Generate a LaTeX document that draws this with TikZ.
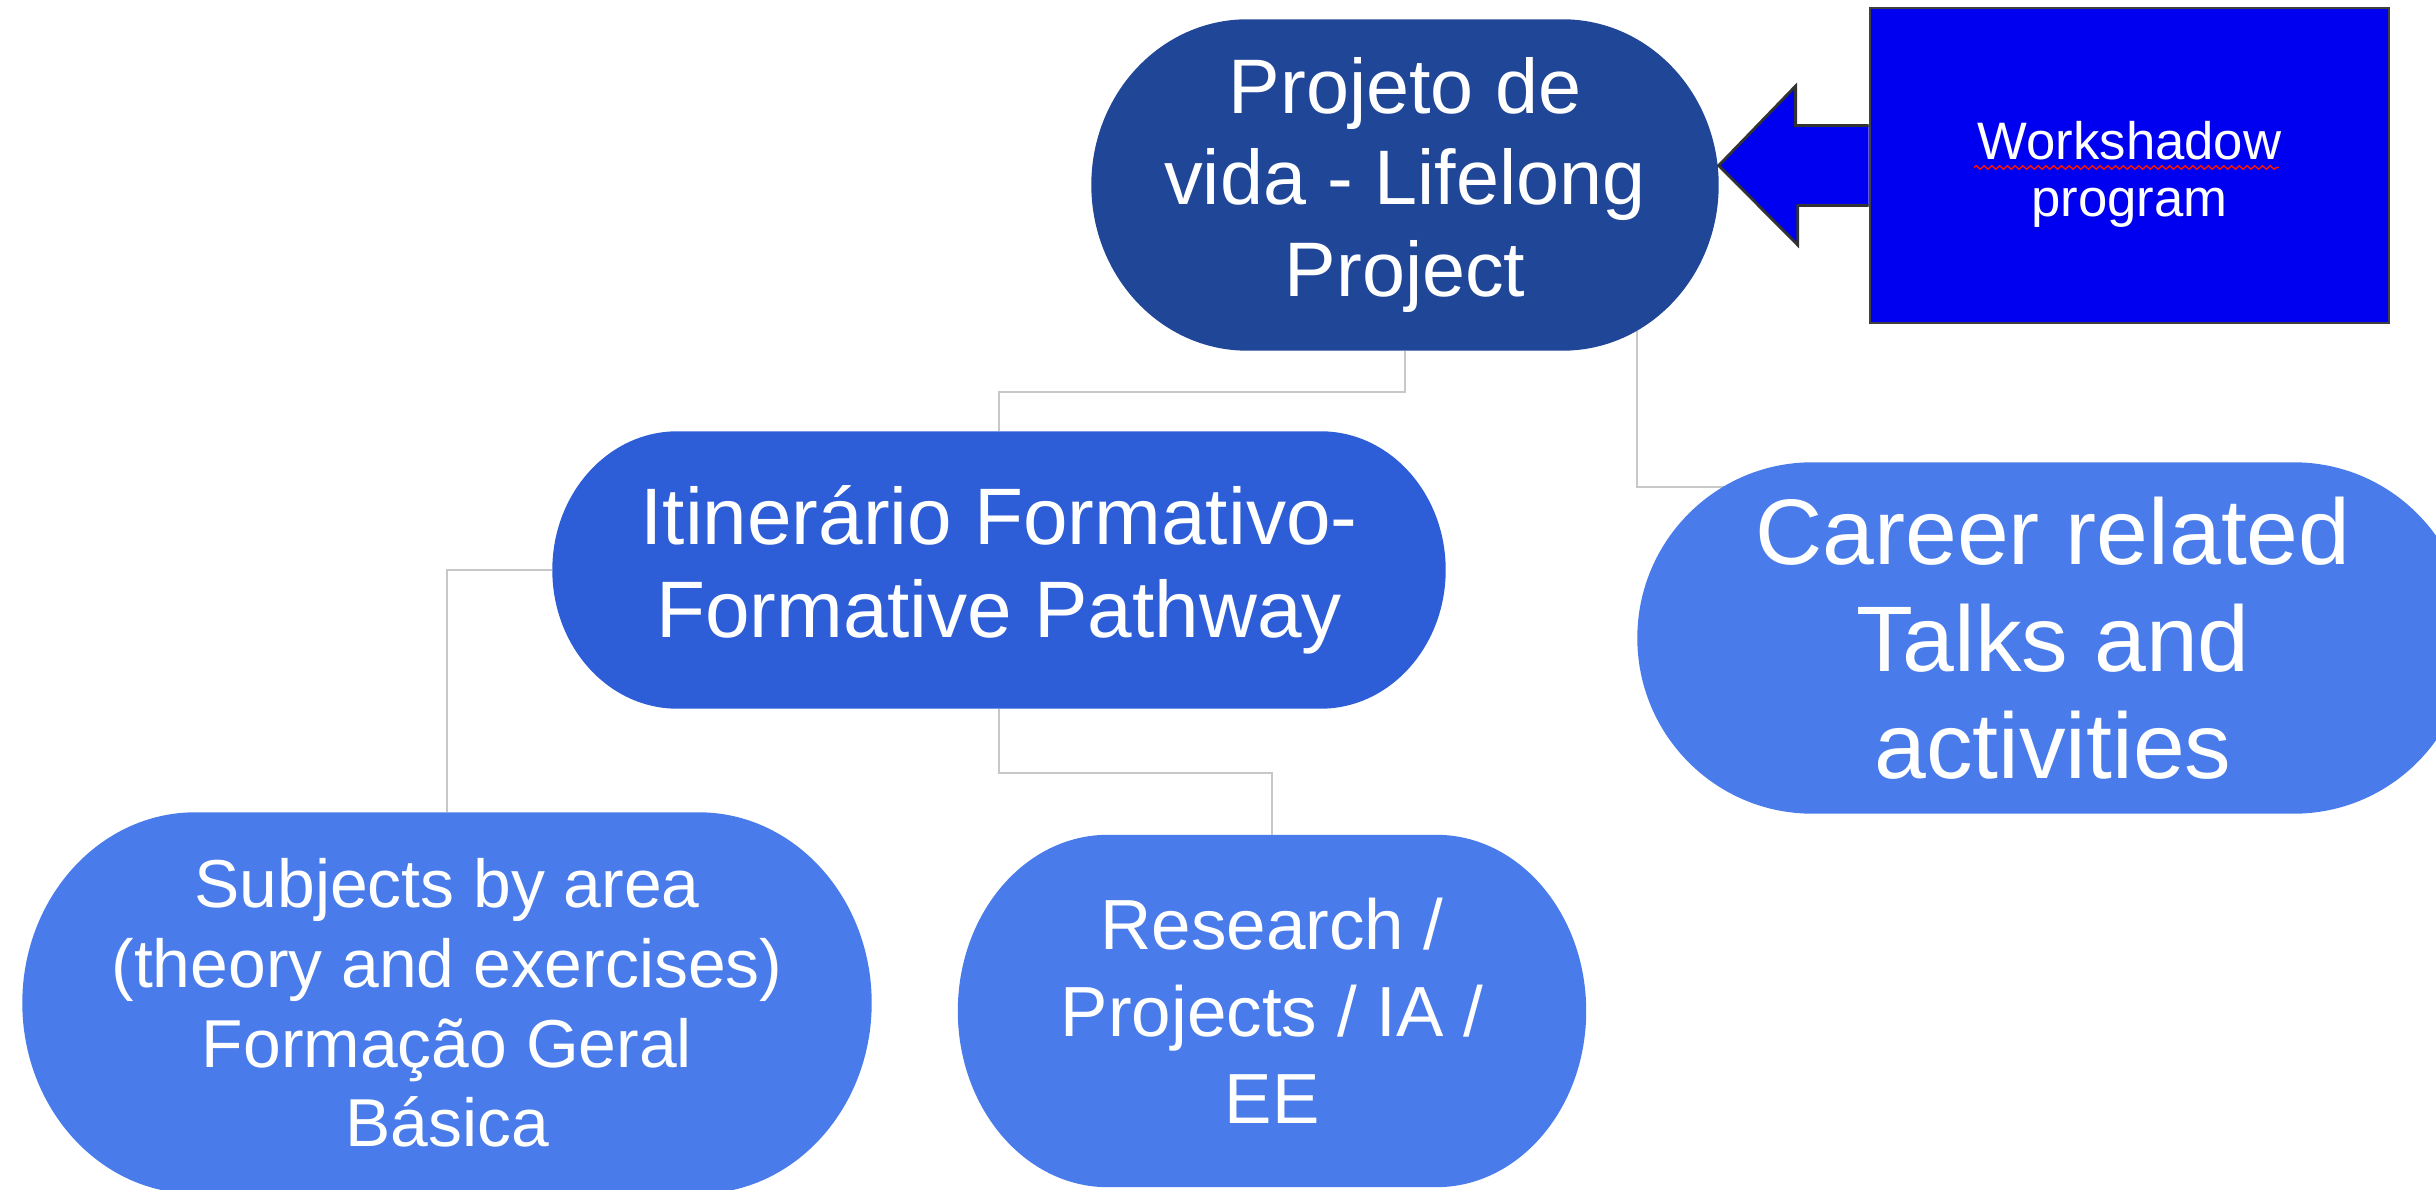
\documentclass[tikz,border=0pt]{standalone}
\usepackage{fontspec}
\setmainfont{Liberation Sans}
\definecolor{lifenavy}{RGB}{32, 70, 152}
\definecolor{pathblue}{RGB}{45, 94, 215}
\definecolor{leafblue}{RGB}{73, 124, 234}
\definecolor{shadowblue}{RGB}{0, 0, 240}
\definecolor{linkgray}{RGB}{200, 200, 200}
\usetikzlibrary{backgrounds, calc, decorations.pathmorphing}

\begin{document}
\begin{tikzpicture}[
  pill/.style={inner sep=0pt, align=center, text=white},
  link/.style={draw=linkgray, line width=0.6pt}
]
  \useasboundingbox (0,0) rectangle (24.36,11.89);

  % Tree of pathways
  \node[pill, minimum width=6.26cm, minimum height=3.3cm, font=\fontsize{22}{26}\selectfont] (life) at (14.05, 10.04) {Projeto de\\vida - Lifelong\\Project};
  \node[pill, minimum width=8.92cm, minimum height=2.76cm, font=\fontsize{22.8}{26.4}\selectfont] (itin) at (9.99, 6.19) {Itinerário Formativo-\\Formative Pathway};
  \node[pill, minimum width=8.3cm, minimum height=3.5cm, font=\fontsize{26.5}{30.4}\selectfont] (career) at (20.53, 5.51) {Career related\\Talks and\\activities};
  \node[pill, minimum width=8.48cm, minimum height=3.8cm, font=\fontsize{19.3}{22.7}\selectfont] (subj) at (4.47, 1.86) {Subjects by area\\(theory and exercises)\\Formação Geral\\Básica};
  \node[pill, minimum width=6.27cm, minimum height=3.51cm, font=\fontsize{20.2}{24.7}\selectfont] (res) at (12.72, 1.78) {Research /\\Projects / IA /\\EE};

  \begin{scope}[on background layer]
    \draw[link] (life.south) -- ++(0,-0.41) -| (itin.north);
    \draw[link] (life.center -| career.west) |- ([yshift=-2.5mm]career.north);
    \draw[link] (itin.west) -| (subj.north);
    \draw[link] (itin.south) -- ++(0,-0.64) -| (res.north);
    % pill bodies with elliptic ends
    \foreach \nd/\rx/\col in {life/1.56/lifenavy, itin/1.25/pathblue, career/1.75/leafblue, subj/1.73/leafblue, res/1.5/leafblue}
      \fill[\col] let \p1=(\nd.north west), \p2=(\nd.south east) in
        ({\x1+\rx cm}, \y1) -- ({\x2-\rx cm}, \y1)
        arc[start angle=90, end angle=-90, x radius=\rx cm, y radius={(\y1-\y2)/2}]
        -- ({\x1+\rx cm}, \y2)
        arc[start angle=270, end angle=90, x radius=\rx cm, y radius={(\y1-\y2)/2}] -- cycle;
  \end{scope}

  % Workshadow box and block arrow
  \node[draw=black!75, line width=0.8pt, fill=shadowblue, minimum width=5.19cm, minimum height=3.15cm] (shadow) at (21.295, 10.235) {};
  \node[align=center, text=white, inner sep=0pt, font=\fontsize{15}{16.2}\selectfont] (shadowtext) at ([yshift=-0.09cm]shadow.center) {Workshadow\\program};
  \draw[red!85!orange, line width=0.4pt, decorate, decoration={snake, amplitude=0.5pt, segment length=2.2pt}] ([xshift=-1.555cm, yshift=0.07cm]shadowtext.center) -- ([xshift=1.495cm, yshift=0.07cm]shadowtext.center);

  \draw[fill=shadowblue, draw=black!80, line width=0.8pt, line join=miter] ([yshift=4mm]shadow.west) -- ++(-0.73,0) -- ++(0,0.395) -- (life.east |- shadow.west) -- ++(0.79,-0.795) -- ++(0,0.395) -- ([yshift=-4mm]shadow.west);
\end{tikzpicture}
\end{document}
